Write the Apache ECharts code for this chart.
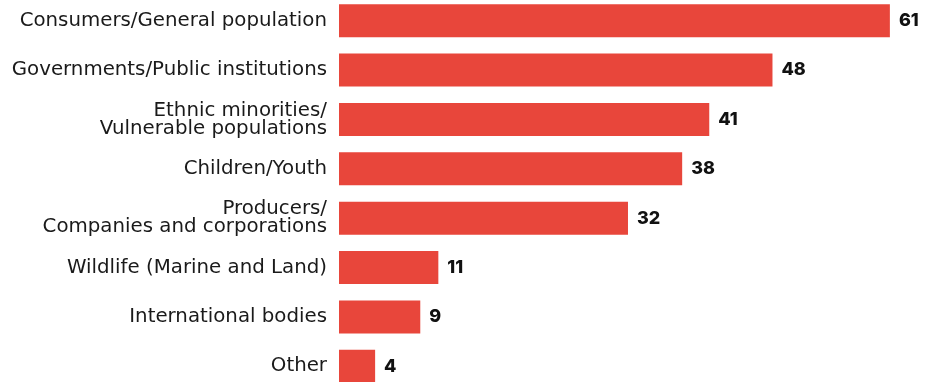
<!DOCTYPE html>
<html>
<head>
<meta charset="utf-8">
<script src="https://cdn.jsdelivr.net/npm/echarts@6/dist/echarts.min.js"></script>
<style>
  html, body { margin: 0; padding: 0; background: #fff; overflow: hidden; }
  /* taller than the window so the outer bars touch the edges */
  #chart { position: absolute; left: 0; top: -4px; width: 933px; height: 395px; }
</style>
</head>
<body>
<div id="chart"></div>
<script>
// Stakeholder groups, top to bottom
const categories = [
  'Consumers/General population',
  'Governments/Public institutions',
  'Ethnic minorities/\nVulnerable populations',
  'Children/Youth',
  'Producers/\nCompanies and corporations',
  'Wildlife (Marine and Land)',
  'International bodies',
  'Other'
];
const values = [61, 48, 41, 38, 32, 11, 9, 4];

const chart = echarts.init(document.getElementById('chart'));

chart.setOption({
  backgroundColor: '#ffffff',
  animation: false,
  grid: {
    left: 339,
    right: 7,
    top: 0,
    bottom: 0
  },
  xAxis: {
    type: 'value',
    min: 0,
    max: 65,
    show: false
  },
  yAxis: {
    type: 'category',
    data: categories,
    inverse: true,
    axisLine: { show: false },
    axisTick: { show: false },
    axisLabel: {
      margin: 12,
      color: '#1a1a1a',
      fontFamily: 'DejaVu Sans',
      fontSize: 19.8,
      lineHeight: 18,
      align: 'right'
    }
  },
  series: [
    {
      type: 'bar',
      data: values,
      barWidth: 33,
      itemStyle: { color: '#E8463B' },
      label: {
        show: true,
        position: 'right',
        distance: 9,
        color: '#111',
        fontFamily: 'Inter',
        fontWeight: 800,
        fontSize: 18
      }
    }
  ]
});
</script>
</body>
</html>
